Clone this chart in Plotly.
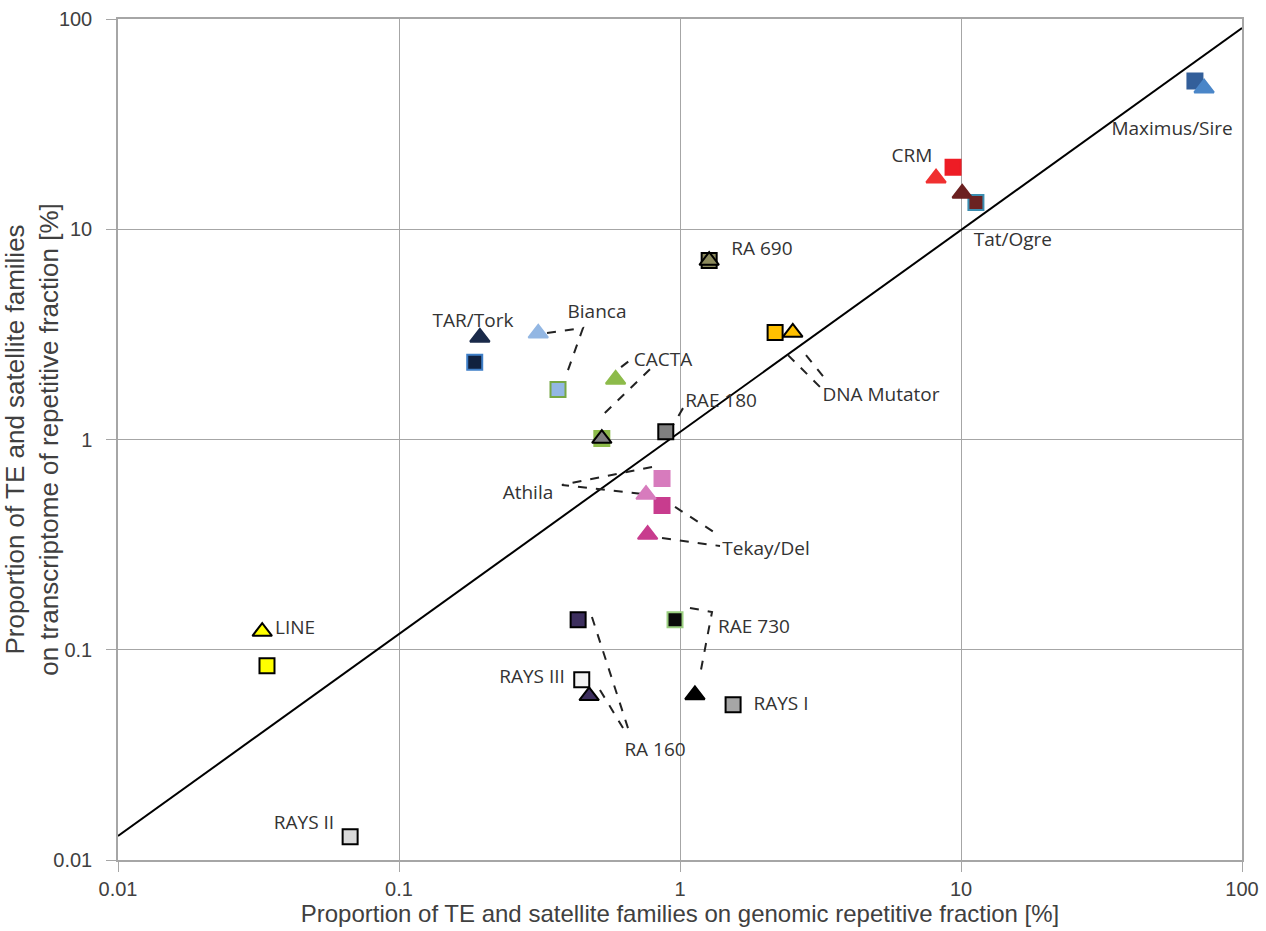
import plotly.graph_objects as go

# ---------------- data ----------------
# squares
sq_names = ["Maximus/Sire", "CRM", "Tat/Ogre", "RA 690", "TAR/Tork", "Bianca", "CACTA",
            "RAE 180", "Athila", "Tekay/Del", "DNA Mutator", "RA 160", "RAYS III",
            "RAE 730", "RAYS I", "LINE", "RAYS II"]
sq_genome = [68, 9.37, 11.3, 1.27, 0.186, 0.368, 0.527, 0.89, 0.863, 0.863, 2.18, 0.434,
             0.447, 0.96, 1.545, 0.0339, 0.067]
sq_transcript = [50.7, 19.7, 13.4, 7.1, 2.33, 1.73, 1.01, 1.09, 0.653, 0.485, 3.23, 0.139,
                 0.072, 0.139, 0.0547, 0.0839, 0.0129]
sq_fill = ["#335f9a", "#ee1c25", "#6b2222", "#8c8a5c", "#10213f", "#93b7e3", "#8dbb4a",
           "#808080", "#d77bbd", "#c83c8e", "#ffc000", "#3d2f5e", "#f2f2f2",
           "#0a0a0a", "#a6a6a6", "#ffff00", "#d9d9d9"]
sq_edge = ["#335f9a", "#ee1c25", "#3b8db0", "#000000", "#3f7fc8", "#77a844", "#8dbb4a",
           "#000000", "#d77bbd", "#c83c8e", "#000000", "#000000", "#000000",
           "#9bd080", "#000000", "#000000", "#000000"]

# triangles
tri_names = ["Maximus/Sire", "CRM", "Tat/Ogre", "RA 690", "TAR/Tork", "Bianca", "CACTA",
             "RAE 180", "Athila", "Tekay/Del", "DNA Mutator", "RA 160", "RAE 730", "LINE"]
tri_genome = [73.3, 8.15, 10.1, 1.27, 0.194, 0.313, 0.59, 0.527, 0.757, 0.767, 2.52, 0.475,
              1.13, 0.0326]
tri_transcript = [46.9, 17.5, 14.8, 7.1, 3.06, 3.2, 1.93, 1.01, 0.547, 0.353, 3.23, 0.0604,
                  0.061, 0.122]
tri_fill = ["#4a86c8", "#f03030", "#6b2020", "#8c8a5c", "#1a2a4a", "#93b7e3", "#8dbb4a",
            "#808080", "#d77bbd", "#c83c8e", "#ffc000", "#3d2f5e", "#000000", "#ffff00"]
tri_edge = ["#4a86c8", "#f03030", "#6b2020", "#000000", "#1a2a4a", "#93b7e3", "#8dbb4a",
            "#000000", "#d77bbd", "#c83c8e", "#000000", "#000000", "#000000", "#000000"]

# trend line (power fit) end points
trend_x = [0.01, 100]
trend_y = [0.013, 90.6]

# label texts and positions (data units)
label_text = ["Maximus/Sire", "CRM", "Tat/Ogre", "RA 690", "TAR/Tork", "Bianca", "CACTA",
              "RAE 180", "Athila", "Tekay/Del", "DNA Mutator", "RAE 730", "RAYS III",
              "RAYS I", "RA 160", "LINE", "RAYS II"]
label_x = [56.4, 6.69, 15.3, 1.957, 0.1834, 0.5066, 0.870, 1.40, 0.2877, 2.023, 5.19, 1.834,
           0.2974, 2.288, 0.815, 0.0427, 0.0459]
label_y = [29.6, 22.1, 8.79, 7.96, 3.62, 4.0, 2.36, 1.508, 0.551, 0.298, 1.61, 0.1269,
           0.0734, 0.0546, 0.033, 0.1256, 0.01483]

# leader (dashed) polylines, data units
leaders = [
    ([0.3363, 0.4517, 0.396], [3.21, 3.39, 2.07]),          # Bianca
    ([0.617, 0.680], [2.21, 2.44]),                          # CACTA stub
    ([0.782, 0.532], [2.16, 1.31]),                          # CACTA
    ([1.025, 0.944], [1.41, 1.17]),                          # RAE 180
    ([0.795, 0.380, 0.732], [0.740, 0.608, 0.551]),          # Athila
    ([0.960, 1.354], [0.478, 0.355]),                        # Tekay/Del
    ([0.863, 1.388], [0.340, 0.3115]),                       # Tekay/Del
    ([2.423, 3.15], [2.52, 1.777]),                          # DNA Mutator
    ([2.808, 3.31], [2.52, 1.919]),                          # DNA Mutator
    ([0.486, 0.653], [0.1432, 0.0424]),                      # RA 160
    ([0.519, 0.627], [0.0644, 0.0424]),                      # RA 160
    ([1.085, 1.300, 1.178], [0.158, 0.1512, 0.0758]),        # RAE 730
]

tick_vals = [0.01, 0.1, 1, 10, 100]
tick_text = ["0.01", "0.1", "1", "10", "100"]

# ---------------- figure ----------------
fig = go.Figure()

fig.add_trace(go.Scatter(x=trend_x, y=trend_y, mode="lines",
                         line=dict(color="#000000", width=2), hoverinfo="skip",
                         showlegend=False))

lx, ly = [], []
for xs, ys in leaders:
    lx += xs + [None]
    ly += ys + [None]
fig.add_trace(go.Scatter(x=lx, y=ly, mode="lines",
                         line=dict(color="#222222", width=2, dash="dash"),
                         hoverinfo="skip", showlegend=False))

fig.add_trace(go.Scatter(x=sq_genome, y=sq_transcript, mode="markers", text=sq_names,
                         marker=dict(symbol="square", size=15, color=sq_fill,
                                     line=dict(color=sq_edge, width=2)),
                         showlegend=False, cliponaxis=False))

fig.add_trace(go.Scatter(x=tri_genome, y=tri_transcript, mode="markers", text=tri_names,
                         marker=dict(symbol="triangle-up", size=17, color=tri_fill,
                                     line=dict(color=tri_edge, width=2)),
                         showlegend=False, cliponaxis=False))

fig.add_trace(go.Scatter(x=label_x, y=label_y, mode="text", text=label_text,
                         textposition="middle center",
                         textfont=dict(family="Open Sans", size=19, color="#333333"),
                         hoverinfo="skip", showlegend=False, cliponaxis=False))

axis_common = dict(type="log", range=[-2, 2], tickvals=tick_vals, ticktext=tick_text,
                   showgrid=True, gridcolor="#a6a6a6", gridwidth=1,
                   showline=True, linecolor="#a6a6a6", linewidth=1.5, mirror=True,
                   ticks="outside", ticklen=10, tickcolor="#a6a6a6",
                   tickfont=dict(family="Liberation Sans", size=20, color="#404040"),
                   zeroline=False, automargin=False)

fig.update_layout(
    width=1266, height=931,
    margin=dict(l=118, r=24, t=19, b=71),
    paper_bgcolor="white", plot_bgcolor="white",
    xaxis=dict(**axis_common,
               title=dict(text="Proportion of TE and satellite families on genomic repetitive fraction [%]",
                          font=dict(family="Liberation Sans", size=24, color="#404040"),
                          standoff=2)),
    yaxis=dict(**axis_common, ticklabelstandoff=10,
               title=dict(text="Proportion of TE and satellite families<br>on transcriptome of repetitive fraction [%]",
                          font=dict(family="Liberation Sans", size=26, color="#404040"),
                          standoff=2)),
)

fig.write_html("out.html", config={"displayModeBar": False},
               post_script="document.body.style.margin='0px';")
